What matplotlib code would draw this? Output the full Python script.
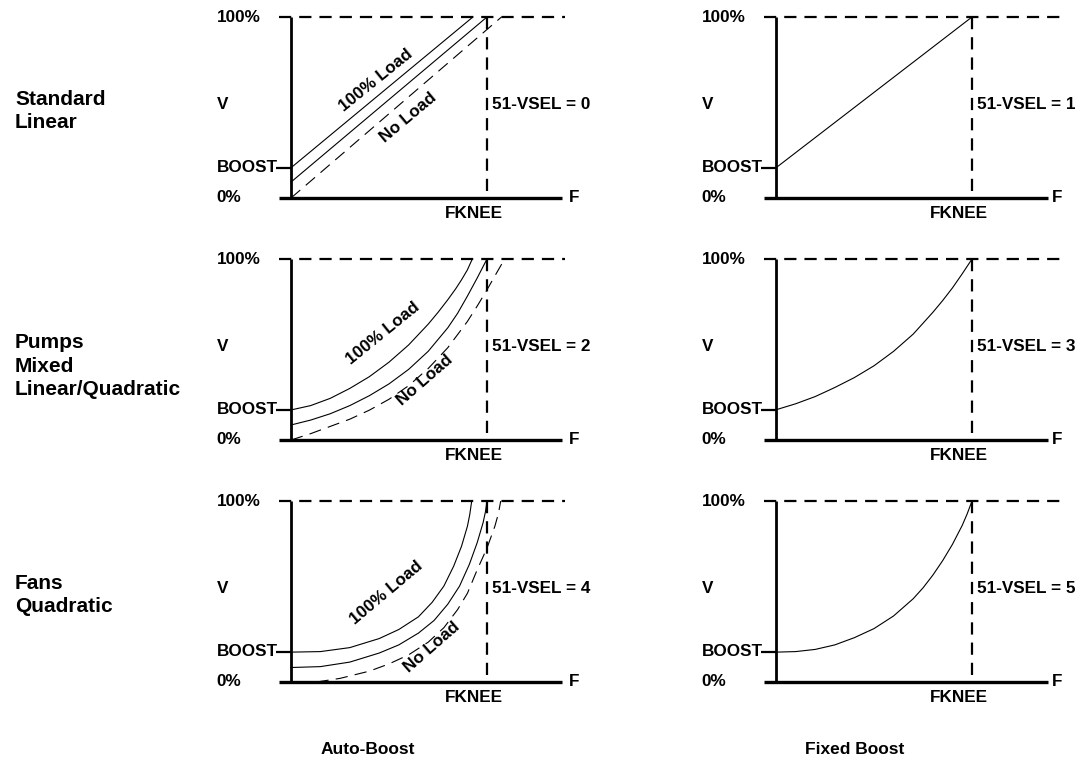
import matplotlib
matplotlib.use("Agg")
import matplotlib.pyplot as plt

W, H = 1089, 763
plt.rcParams['font.family'] = ['Liberation Sans', 'DejaVu Sans']

# ---------------- data (F as fraction of FKNEE, V as fraction of 100%) ----------------
boost_level = 0.167

row_titles = ["Standard\nLinear", "Pumps\nMixed\nLinear/Quadratic", "Fans\nQuadratic"]
col_titles = ["Auto-Boost", "Fixed Boost"]
vsel_auto = [0, 2, 4]
vsel_fixed = [1, 3, 5]

# Standard linear
std_full_f = [0.0, 0.928]
std_full_v = [0.167, 1.0]
std_mid_f = [0.0, 1.0]
std_mid_v = [0.088, 1.0]
std_none_f = [0.0, 1.074]
std_none_v = [0.0, 1.0]
std_fixed_f = [0.0, 1.0]
std_fixed_v = [0.167, 1.0]

# Pumps mixed linear/quadratic
pump_full_f = [0.0, 0.1, 0.2, 0.3, 0.4, 0.5, 0.6, 0.7, 0.75, 0.8, 0.84, 0.87, 0.9, 0.925]
pump_full_v = [0.166, 0.19, 0.23, 0.285, 0.35, 0.43, 0.525, 0.64, 0.705, 0.775, 0.835, 0.885, 0.94, 1.0]
pump_mid_f = [0.0, 0.1, 0.2, 0.3, 0.4, 0.5, 0.6, 0.7, 0.8, 0.85, 0.9, 0.95, 1.0]
pump_mid_v = [0.083, 0.11, 0.145, 0.19, 0.245, 0.31, 0.39, 0.49, 0.62, 0.70, 0.795, 0.895, 1.0]
pump_none_f = [0.0, 0.1, 0.2, 0.3, 0.4, 0.5, 0.6, 0.7, 0.8, 0.9, 0.95, 1.0, 1.05, 1.09]
pump_none_v = [0.0, 0.035, 0.075, 0.115, 0.165, 0.225, 0.3, 0.395, 0.51, 0.655, 0.74, 0.83, 0.925, 1.0]
pump_fixed_f = [0.0, 0.1, 0.2, 0.3, 0.4, 0.5, 0.6, 0.7, 0.8, 0.85, 0.9, 0.95, 1.0]
pump_fixed_v = [0.167, 0.20, 0.24, 0.29, 0.345, 0.41, 0.49, 0.585, 0.705, 0.77, 0.84, 0.918, 1.0]

# Fans quadratic
fan_full_f = [0.0, 0.15, 0.3, 0.45, 0.55, 0.65, 0.72, 0.78, 0.83, 0.87, 0.9, 0.912, 0.922]
fan_full_v = [0.165, 0.168, 0.19, 0.24, 0.29, 0.36, 0.44, 0.53, 0.64, 0.75, 0.86, 0.925, 1.0]
fan_mid_f = [0.0, 0.15, 0.3, 0.45, 0.55, 0.65, 0.73, 0.8, 0.86, 0.91, 0.95, 0.98, 0.992, 1.0]
fan_mid_v = [0.08, 0.085, 0.11, 0.16, 0.205, 0.27, 0.34, 0.43, 0.53, 0.65, 0.77, 0.88, 0.94, 1.0]
fan_none_f = [0.13, 0.25, 0.4, 0.5, 0.6, 0.7, 0.78, 0.85, 0.9, 0.95, 1.0, 1.04, 1.058, 1.07]
fan_none_v = [0.0, 0.02, 0.06, 0.1, 0.15, 0.22, 0.3, 0.4, 0.49, 0.62, 0.74, 0.86, 0.93, 1.0]
fan_fixed_f = [0.0, 0.1, 0.2, 0.3, 0.4, 0.5, 0.6, 0.7, 0.75, 0.8, 0.85, 0.9, 0.95, 0.975, 1.0]
fan_fixed_v = [0.165, 0.168, 0.18, 0.205, 0.245, 0.295, 0.365, 0.46, 0.52, 0.59, 0.67, 0.76, 0.865, 0.928, 1.0]

auto_curves = [
    ((std_full_f, std_full_v), (std_mid_f, std_mid_v), (std_none_f, std_none_v)),
    ((pump_full_f, pump_full_v), (pump_mid_f, pump_mid_v), (pump_none_f, pump_none_v)),
    ((fan_full_f, fan_full_v), (fan_mid_f, fan_mid_v), (fan_none_f, fan_none_v)),
]
fixed_curves = [(std_fixed_f, std_fixed_v), (pump_fixed_f, pump_fixed_v), (fan_fixed_f, fan_fixed_v)]

# ---------------- layout ----------------
fig = plt.figure(figsize=(W / 100, H / 100), dpi=100)

row_top_px = [17, 259, 501]
row_h_px = 181
col_x0_px = [291, 776]
col_w_px = 196

AX_FS = 12.3
BIG_FS = 15

def make_ax(col, row):
    x0 = col_x0_px[col]
    y_top = row_top_px[row]
    ax = fig.add_axes([x0 / W, 1 - (y_top + row_h_px) / H, col_w_px / W, row_h_px / H])
    ax.set_xlim(0, 1)
    ax.set_ylim(0, 1)
    ax.axis('off')
    return ax

thick_dash = (5.5, 3.6)
thin_dash = (11, 6.5)

def frame(ax, vsel, top_end, bot_end, f_label_x):
    kw = dict(color='black', solid_capstyle='butt', clip_on=False)
    ax.plot([-0.062, top_end], [1, 1], lw=1.6, dashes=thick_dash, dash_capstyle='butt', color='black', clip_on=False)
    ax.plot([1, 1], [1, 0], lw=1.6, dashes=thick_dash, dash_capstyle='butt', color='black', clip_on=False)
    ax.plot([0, 0], [0, 1], lw=2.0, **kw)
    ax.plot([-0.062, bot_end], [0, 0], lw=2.4, **kw)
    ax.plot([-0.078, 0], [boost_level, boost_level], lw=1.6, **kw)
    tx = dict(fontsize=AX_FS, fontweight='bold', clip_on=False)
    ax.text(-0.38, 1.0, "100%", ha='left', va='center', **tx)
    ax.text(-0.38, 0.514, "V", ha='left', va='center', **tx)
    ax.text(-0.38, boost_level, "BOOST", ha='left', va='center', **tx)
    ax.text(-0.38, 0.0, "0%", ha='left', va='center', **tx)
    ax.text(0.932, -0.088, "FKNEE", ha='center', va='center', **tx)
    ax.text(f_label_x, 0.0, "F", ha='left', va='center', **tx)
    ax.text(1.026, 0.514, f"51-VSEL = {vsel}", ha='left', va='center', **tx)

load_labels = [
    ((0.434, 0.652, 39), (0.597, 0.447, 40)),
    ((0.469, 0.591, 39), (0.684, 0.331, 41)),
    ((0.485, 0.492, 40), (0.719, 0.193, 41)),
]

for r in range(3):
    ax = make_ax(0, r)
    frame(ax, vsel_auto[r], 1.40, 1.383, 1.42)
    (ff, fv), (mf, mv), (nf, nv) = auto_curves[r]
    ax.plot(ff, fv, color='black', lw=0.8, clip_on=False)
    ax.plot(mf, mv, color='black', lw=0.8, clip_on=False)
    ax.plot(nf, nv, color='black', lw=0.8, dashes=thin_dash, clip_on=False)
    (x1, y1, a1), (x2, y2, a2) = load_labels[r]
    ax.text(x1, y1, "100% Load", rotation=a1, rotation_mode='anchor', ha='center', va='center',
            fontsize=AX_FS, fontweight='bold', clip_on=False)
    ax.text(x2, y2, "No Load", rotation=a2, rotation_mode='anchor', ha='center', va='center',
            fontsize=AX_FS, fontweight='bold', clip_on=False)

    ax2 = make_ax(1, r)
    frame(ax2, vsel_fixed[r], 1.475, 1.39, 1.405)
    fx, fy = fixed_curves[r]
    ax2.plot(fx, fy, color='black', lw=0.8, clip_on=False)

# row titles
row_title_px = [(15, 111), (15, 366), (15, 595)]
for (px, py), t in zip(row_title_px, row_titles):
    fig.text(px / W, 1 - py / H, t, ha='left', va='center', fontsize=BIG_FS, fontweight='bold',
             linespacing=1.3)

# column titles
for cx, t in zip([368, 855], col_titles):
    fig.text(cx / W, 1 - 750 / H, t, ha='center', va='center', fontsize=12.5, fontweight='bold')

fig.savefig("out.png", dpi=100)
